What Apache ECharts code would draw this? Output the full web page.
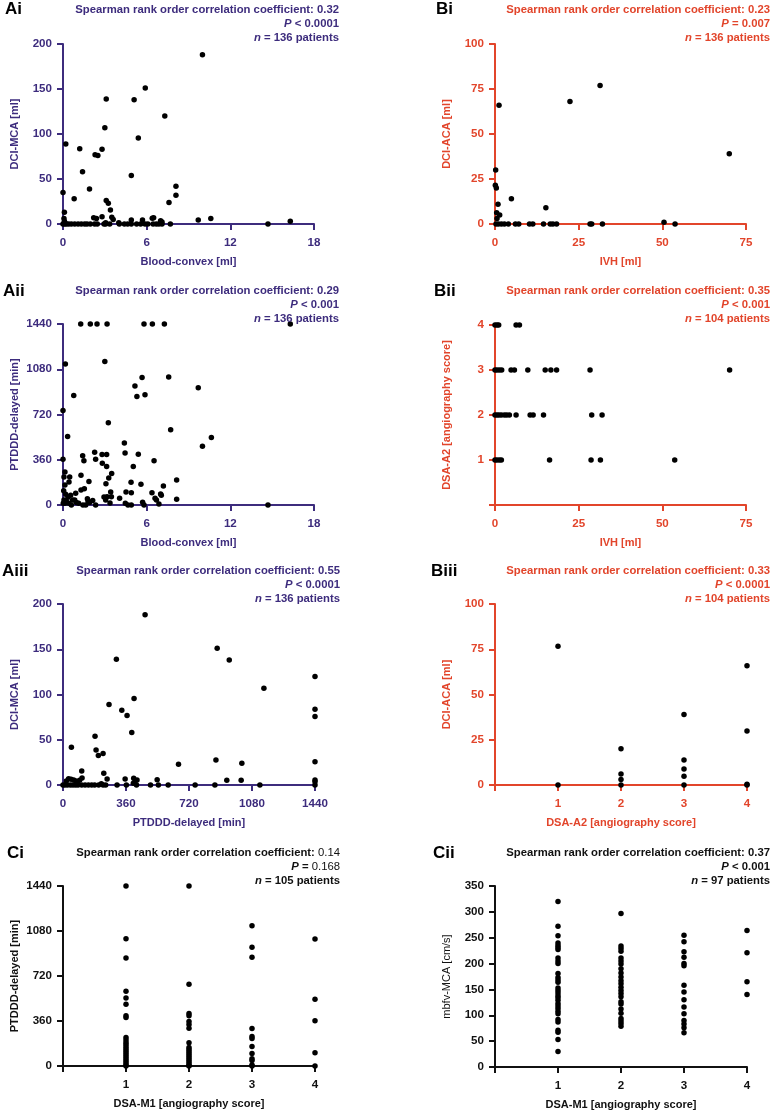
<!DOCTYPE html>
<html><head><meta charset="utf-8">
<script src="https://cdn.jsdelivr.net/npm/echarts@6/dist/echarts.min.js"></script>
<style>html,body{margin:0;padding:0;background:#fff}#c{width:772px;height:1111px}</style>
</head><body><div id="c"></div>
<script>
// ---------- DATA ----------
// Ai: Blood-convex [ml] vs DCI-MCA [ml]
const dataAi = [[10.0,188],[5.9,151],[3.1,139],[5.1,138],[7.3,120],[3.0,107],[5.4,95.5],[0.2,89],[1.2,83.5],[2.8,83],[2.3,77],[2.5,76],[1.4,58],[4.9,54],[8.1,42],[1.9,39],[0.0,35],[8.1,32],[0.8,28],[3.1,26],[3.25,23],[7.6,24],[3.4,15.5],[0.1,13],[2.2,7],[2.4,6],[2.8,8],[3.5,7.4],[3.6,5],[4.9,4.5],[5.7,4.5],[6.4,6.3],[6.5,7],[7.0,3.7],[7.1,2.2],[9.7,4.5],[10.6,6],[16.3,3],[0.07,6],[0.1,3],[0.15,1],[4.0,1.5],[3.06,1.5],
  [0,0],[0.12,0],[0.24,0],[0.41,0],[0.6,0],[0.84,0],[1.08,0],[1.31,0],[1.55,0],[1.72,0],[1.96,0],[2.27,0],[2.46,0],[2.94,0],[3.06,0],[3.35,0],[4.04,0],[4.4,0],[4.64,0],[4.9,0],[5.28,0],[5.57,0],[5.88,0],[6.08,0],[6.46,0],[6.69,0],[6.88,0],[7.1,0],[7.7,0],[14.7,0]];
// Bi: IVH [ml] vs DCI-ACA [ml]
const dataBi = [[31.4,77],[22.4,68],[1.2,66],[70,39],[0.2,30],[0.1,21.5],[0.4,20],[0.9,11],[4.9,14],[15.2,9],[0.5,6.3],[1.4,5],[0.6,3],[50.5,1],[53.8,0],[32.1,0],[28.4,0],[28.9,0],[18.4,0],[17.3,0],[16.5,0],[14.5,0],[11.3,0],[10.3,0],[7.1,0],[6.1,0],[4.0,0],[2.8,0],[1.9,0],[1.0,0],[0.3,0]];
// Aii: Blood-convex [ml] vs PTDDD-delayed [min]
const dataAii = [[1.27,1440],[1.96,1440],[2.44,1440],[3.16,1440],[5.81,1440],[6.41,1440],[7.27,1440],[16.3,1440],
  [3.0,1142],[0.17,1121],[5.67,1015],[7.58,1018],[5.16,946],[9.7,932],[5.3,863],[5.88,877],[0.77,871],[0,752],[3.25,654],[7.72,598],[0.33,545],[10.64,537],[10.0,468],[4.4,494],
  [2.27,420],[4.45,414],[5.4,404],[2.8,401],[3.13,401],[1.41,391],[1.5,353],[2.34,364],[6.53,353],[0,364],[2.82,332],[3.13,306],[5.04,306],[3.49,250],[0.14,263],[1.29,236],[3.28,215],[0.48,223],[0.07,223],
  [8.15,199],[1.86,186],[0.43,183],[3.08,170],[4.88,181],[5.59,165],[0.14,159],[7.2,151],[1.53,130],[1.29,120],[0.05,114],[4.52,104],[4.9,98],[3.42,104],[0.91,93],[6.38,98],[7.05,77],[7.0,88],
  [3.47,66],[2.94,64],[3.16,66],[4.06,53],[6.6,53],[6.7,40],[8.15,45],[1.75,50],[3.06,40],[1.8,29],[2.13,35],[4.47,13],[5.71,21],[6.88,8],[3.37,16],[0.07,40],
  [0.19,85],[0.36,61],[0.55,77],[0.69,40],[0.84,40],[0.96,19],[1.12,13],[0.24,27],[0.43,13],[0.6,0],[0.02,13],[0.14,13],[1.43,0],[1.63,0],[1.91,19],[2.34,0],[4.66,0],[4.9,0],[5.81,0],[14.7,0]];
// Bii: IVH [ml] vs DSA-A2 [angiography score]
const dataBii = [[0,4],[0.6,4],[1.1,4],[6.3,4],[7.3,4],
  [0,3],[0.6,3],[1.3,3],[2.0,3],[4.8,3],[5.8,3],[9.8,3],[15.0,3],[16.7,3],[18.4,3],[28.4,3],[70.1,3],
  [0,2],[0.6,2],[1.2,2],[1.9,2],[2.8,2],[3.5,2],[4.3,2],[6.3,2],[10.5,2],[11.4,2],[14.5,2],[28.9,2],[32.0,2],
  [0,1],[0.6,1],[1.3,1],[1.9,1],[16.3,1],[28.7,1],[31.5,1],[53.7,1]];
// Aiii: PTDDD-delayed [min] vs DCI-MCA [ml]
const dataAiii = [[469,188],[881,151],[950,138],[305,139],[1440,120],[1148,107],[406,95.6],[263,89],[336,82.7],[366,76.8],[1440,83.8],[1440,75.6],[393,57.9],[183,53.9],[189,38.7],[202,32.5],[229,34.7],[48,41.7],
  [660,22.9],[874,27.7],[1022,24],[1440,25.8],[107,15.5],[233,13],[109,7.7],[252,6.6],[355,6.6],[404,7.4],[423,5.5],[538,5.9],[936,5.2],[1018,5.2],[1440,5.5],[1440,3.7],[32,7],[46,6.3],[61,5.5],[74,4.4],[19,4.4],[82,3.3],[95,5.2],[219,1.5],[402,1.8],[410,3],
  [0,0],[11,0],[25,0],[42,0],[57,0],[72,0],[86,0],[107,0],[126,0],[145,0],[164,0],[181,0],[204,0],[229,0],[244,0],[309,0],[362,0],[420,0],[500,0],[545,0],[601,0],[755,0],[868,0],[1125,0],[1440,0]];
// Biii: DSA-A2 [angiography score] vs DCI-ACA [ml]
const dataBiii = [[1,76.6],[1,0],[2,20],[2,6.1],[2,3],[2,0],[3,39],[3,13.8],[3,8.9],[3,4.8],[3,0],[4,65.9],[4,29.9],[4,0.4],[4,0]];
// Ci: DSA-M1 score groups vs PTDDD-delayed [min]
const ciScore1 = [1440,1019,865,599,544,495,402,389,229,208,189,173,154,138,122,106,90,75,59,43,27,11,0];
const ciScore2 = [1440,655,421,402,357,333,303,186,149,133,117,101,85,69,53,37,21,5,0];
const ciScore3 = [1123,950,870,301,237,221,157,101,59,45,8,0];
const ciScore4 = [1017,535,362,106,0];
// Cii: DSA-M1 score groups vs mbfv-MCA [cm/s]
const ciiScore1 = [320,272,254,240,235,231,227,211,205,200,181,173,168,164,153,148,143,138,134,129,123,118,113,108,103,92,87,71,67,53,30];
const ciiScore2 = [297,234,229,224,211,205,199,190,182,174,167,161,154,148,142,136,126,122,112,104,94,89,84,79];
const ciiScore3 = [255,242,223,212,200,196,158,145,130,116,103,90,83,76,66];
const ciiScore4 = [264,221,165,140];

// stats text
const statsAi = ['0.32','<','0.0001','136'];
const statsBi = ['0.23','=','0.007','136'];
const statsAii = ['0.29','<','0.001','136'];
const statsBii = ['0.35','<','0.001','104'];
const statsAiii = ['0.55','<','0.0001','136'];
const statsBiii = ['0.33','<','0.0001','104'];
const statsCi = ['0.14','=','0.168','105'];
const statsCii = ['0.37','<','0.001','97'];

// ---------- CHART ----------
const PURPLE = '#3d2c7d', RED = '#e2452b', BLACK = '#111111';
const FONT = '"Liberation Sans", Arial, Helvetica, sans-serif';
const TICK_FS = 11.6, STAT_FS = 11.3, NAME_FS = 11;
const groupPairs = (groups) => groups.flatMap((g, i) => g.map(v => [i + 1, v]));

const panels = [
  {label:'Ai', color:PURPLE, data:dataAi, grid:[63,44,251,180], x:[0,18,6,'Blood-convex [ml]'], y:[0,200,50,'DCI-MCA [ml]'], lab:[5,9], st:[339,10], stats:statsAi},
  {label:'Bi', color:RED, data:dataBi, grid:[495,44,251,180], x:[0,75,25,'IVH [ml]'], y:[0,100,25,'DCI-ACA [ml]'], lab:[436,9], st:[770,10], stats:statsBi},
  {label:'Aii', color:PURPLE, data:dataAii, grid:[63,324,251,181], x:[0,18,6,'Blood-convex [ml]'], y:[0,1440,360,'PTDDD-delayed [min]'], lab:[3,291], st:[339,291], stats:statsAii},
  {label:'Bii', color:RED, data:dataBii, grid:[495,325,251,180], x:[0,75,25,'IVH [ml]'], y:[0,4,1,'DSA-A2 [angiography score]',true], lab:[434,291], st:[770,291], stats:statsBii},
  {label:'Aiii', color:PURPLE, data:dataAiii, grid:[63,604,252,181], x:[0,1440,360,'PTDDD-delayed [min]'], y:[0,200,50,'DCI-MCA [ml]'], lab:[2,571], st:[340,571], stats:statsAiii},
  {label:'Biii', color:RED, data:dataBiii, grid:[495,604,252,181], x:[0,4,1,'DSA-A2 [angiography score]',true], y:[0,100,25,'DCI-ACA [ml]'], lab:[431,571], st:[770,571], stats:statsBiii},
  {label:'Ci', color:BLACK, data:groupPairs([ciScore1,ciScore2,ciScore3,ciScore4]), grid:[63,886,252,180], x:[0,4,1,'DSA-M1 [angiography score]',true], y:[0,1440,360,'PTDDD-delayed [min]'], lab:[7,853], st:[340,853], stats:statsCi, plain:true},
  {label:'Cii', color:BLACK, data:groupPairs([ciiScore1,ciiScore2,ciiScore3,ciiScore4]), grid:[495,886,252,181], x:[0,4,1,'DSA-M1 [angiography score]',true], y:[0,350,50,'mbfv-MCA [cm/s]',false,'normal'], lab:[433,853], st:[770,853], stats:statsCii}
];

const grids = [], xAxes = [], yAxes = [], series = [], graphics = [];
panels.forEach((p, i) => {
  grids.push({left:p.grid[0], top:p.grid[1], width:p.grid[2], height:p.grid[3], containLabel:false, outerBoundsMode:'none'});
  const common = (c, w) => ({
    axisLine:{show:true, onZero:false, lineStyle:{color:c, width:2}},
    axisTick:{show:true, length:6, lineStyle:{color:c, width:2}},
    splitLine:{show:false},
    nameLocation:'middle', nameMoveOverlap:false,
    nameTextStyle:{color:c, fontWeight:w || 'bold', fontSize:NAME_FS, fontFamily:FONT},
  });
  xAxes.push(Object.assign(common(p.color), {
    gridIndex:i, type:'value', min:p.x[0], max:p.x[1], interval:p.x[2], name:p.x[3], nameGap:32,
    axisLabel:{color:p.color, fontWeight:'bold', fontSize:TICK_FS, fontFamily:FONT, margin:13,
      formatter: (v) => (p.x[4] && v === 0) ? '' : String(v)}
  }));
  yAxes.push(Object.assign(common(p.color, p.y[5]), {
    gridIndex:i, type:'value', min:p.y[0], max:p.y[1], interval:p.y[2], name:p.y[3], nameGap:43,
    axisLabel:{color:p.color, fontWeight:'bold', fontSize:TICK_FS, fontFamily:FONT, margin:11,
      formatter: (v) => (p.y[4] && v === 0) ? '' : String(v)}
  }));
  series.push({type:'scatter', xAxisIndex:i, yAxisIndex:i, data:p.data, symbolSize:5.5,
    itemStyle:{color:'#000', opacity:1}, clip:false, z:5});
  graphics.push({type:'text', x:p.lab[0], y:p.lab[1], style:{text:p.label, font:'bold 17px '+FONT, fill:'#000', align:'left', verticalAlign:'middle'}});
  const c = p.color, s = p.stats;
  const numW = p.plain ? 'normal' : 'bold';
  const rich = {
    b:{fontWeight:'bold', fontSize:STAT_FS, fontFamily:FONT, fill:c, color:c},
    n:{fontWeight:numW, fontSize:STAT_FS, fontFamily:FONT, fill:c, color:c},
    i:{fontWeight:'bold', fontStyle:'italic', fontSize:STAT_FS, fontFamily:FONT, fill:c, color:c}
  };
  const lines = [
    '{b|Spearman rank order correlation coefficient: }{n|' + s[0] + '}',
    '{i|P}{b| ' + s[1] + ' }{n|' + s[2] + '}',
    '{i|n}{b| = ' + s[3] + ' patients}'
  ];
  lines.forEach((t, k) => {
    graphics.push({type:'text', x:p.st[0], y:p.st[1] + k * 14, z:10,
      style:{text:t, rich:rich, align:'right', verticalAlign:'middle', fill:c, font:'bold ' + STAT_FS + 'px ' + FONT}});
  });
});

const chart = echarts.init(document.getElementById('c'), null, {renderer:'canvas'});
chart.setOption({
  animation:false,
  backgroundColor:'#fff',
  grid:grids, xAxis:xAxes, yAxis:yAxes, series:series, graphic:graphics
});
</script>
</body></html>
